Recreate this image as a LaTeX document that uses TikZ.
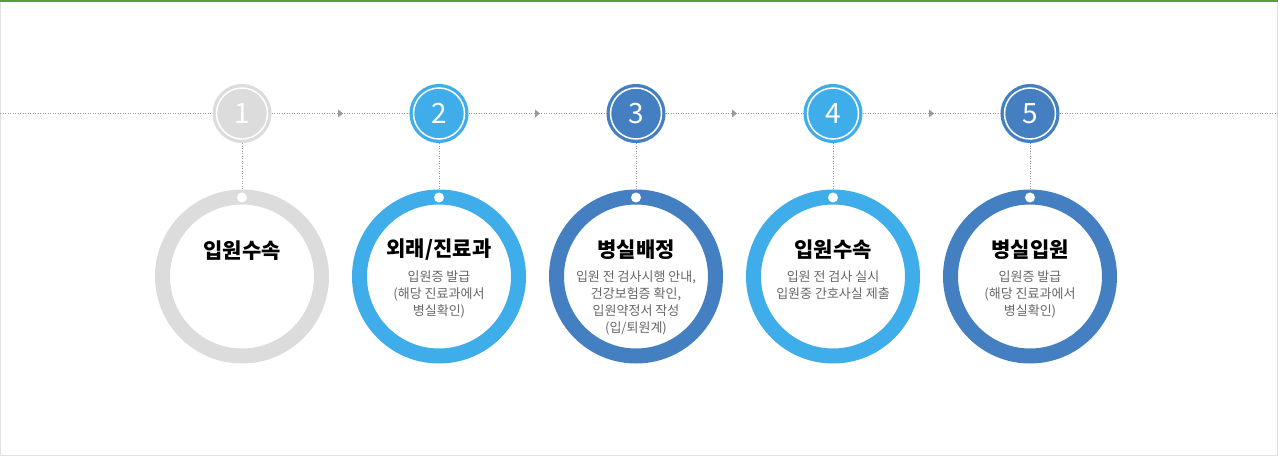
\documentclass[tikz,border=0pt]{standalone}
\usepackage{fontspec}
\setmainfont{Noto Sans CJK KR}
\usetikzlibrary{calc}

\definecolor{stepgray}{HTML}{DCDCDC}
\definecolor{steplight}{HTML}{3FADEA}
\definecolor{stepdark}{HTML}{447FC2}
\definecolor{linegray}{HTML}{9A9A9A}
\definecolor{framegreen}{HTML}{5A9E3C}
\definecolor{framegray}{HTML}{E2E2E2}
\definecolor{subgray}{HTML}{666666}

\tikzset{
  num/.style={circle,fill=#1,minimum size=59pt,inner sep=0pt,text=white,font=\fontsize{28}{28}\selectfont},
  ring/.style={circle,draw=#1,line width=15pt,minimum size=159pt,inner sep=0pt},
  link/.style={draw=linegray,line width=1pt,dash pattern=on 1pt off 1.5pt},
  title/.style={font=\bfseries\fontsize{21}{24}\selectfont,text=black,inner sep=0pt},
  sub/.style={font=\fontsize{13}{17}\selectfont,text=subgray,align=center,inner sep=0pt,anchor=north},
}

\begin{document}
\begin{tikzpicture}[x=1pt,y=1pt]
\useasboundingbox (0,0) rectangle (1278,456);

%frame
\path[draw=framegray,line width=1pt] (0.5,456) -- (0.5,0.5) -- (1277.5,0.5) -- (1277.5,456);
\path[draw=framegreen,line width=2pt] (0,455) -- (1278,455);

%numbers
\node[num=stepgray] (n1) at (242,342.5) {1};
\node[num=steplight] (n2) at (439,342.5) {2};
\node[num=stepdark] (n3) at (636,342.5) {3};
\node[num=steplight] (n4) at (833,342.5) {4};
\node[num=stepdark] (n5) at (1030,342.5) {5};
\foreach \i in {1,...,5}
  \path[draw=white,line width=1.5pt] (n\i.center) circle (25.5);

%time line
\coordinate (lstart) at (0,342.5);
\coordinate (lend) at (1278,342.5);
\path[link] (lstart) -- (n1);
\path[link] (n5) -- (lend);
\foreach \a/\b in {n1/n2,n2/n3,n3/n4,n4/n5} {
  \path[link] (\a) -- (\b);
  \path[fill=linegray] ($(\a)!0.5!(\b)$) ++(-2.5,4) -- ++(5,-4) -- ++(-5,-4) -- cycle;
}

%p1
\node[ring=stepgray] (r1) at (242,179.5) {};
\node[title] (t1) at (242,205) {입원수속};

%p2
\node[ring=steplight] (r2) at (439,179.5) {};
\node[title] (t2) at (439,206) {외래/진료과};
\node[sub] (s2) at (439,185) {입원증 발급\\(해당 진료과에서\\병실확인)};

%p3
\node[ring=stepdark] (r3) at (636,179.5) {};
\node[title] (t3) at (636,206) {병실배정};
\node[sub] (s3) at (636,185) {입원 전 검사시행 안내,\\건강보험증 확인,\\입원약정서 작성\\(입/퇴원계)};

%p4
\node[ring=steplight] (r4) at (833,179.5) {};
\node[title] (t4) at (833,206) {입원수속};
\node[sub] (s4) at (833,185) {입원 전 검사 실시\\입원중 간호사실 제출};

%p5
\node[ring=stepdark] (r5) at (1030,179.5) {};
\node[title] (t5) at (1030,206) {병실입원};
\node[sub] (s5) at (1030,185) {입원증 발급\\(해당 진료과에서\\병실확인)};

%links down
\foreach \i in {1,...,5} {
  \path[link] (n\i) -- (r\i);
  \path[fill=white] (r\i.north) ++(0,-8) circle (5);
}

\end{tikzpicture}
\end{document}
